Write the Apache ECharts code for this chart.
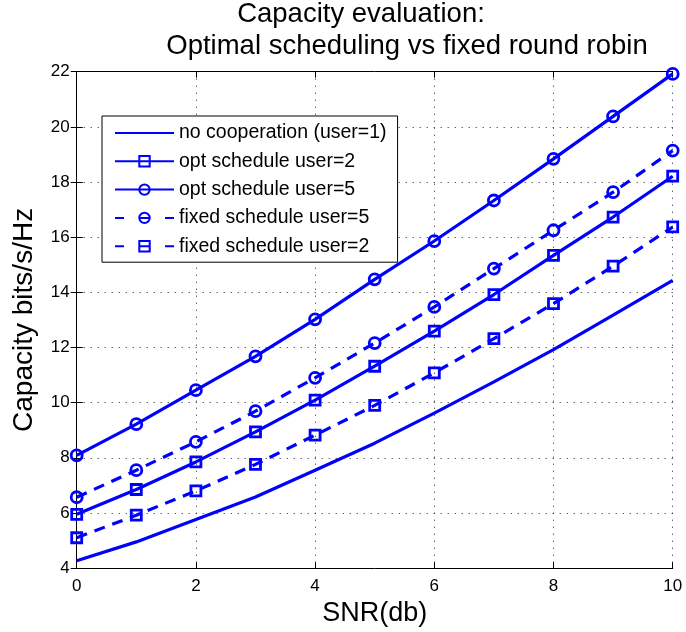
<!DOCTYPE html>
<html>
<head>
<meta charset="utf-8">
<script src="https://cdn.jsdelivr.net/npm/echarts@6/dist/echarts.min.js"></script>
<style>
  html, body { margin: 0; padding: 0; background: #fff; }
  #chart { width: 686px; height: 632px; }
</style>
</head>
<body>
<div id="chart"></div>
<script>
// SNR sample points (dB)
const snr = [0, 1, 2, 3, 4, 5, 6, 7, 8, 9, 10];

// Capacity (bits/s/Hz) per scheme
const noCoop      = [4.27, 4.95, 5.76, 6.58, 7.55, 8.53, 9.62, 10.75, 11.92, 13.17, 14.43];
const optUser2    = [5.95, 6.85, 7.85, 8.94, 10.09, 11.32, 12.59, 13.92, 15.34, 16.73, 18.21];
const optUser5    = [8.09, 9.22, 10.45, 11.68, 13.02, 14.47, 15.86, 17.33, 18.84, 20.38, 21.92];
const fixedUser5  = [6.57, 7.55, 8.58, 9.69, 10.90, 12.16, 13.47, 14.86, 16.25, 17.63, 19.14];
const fixedUser2  = [5.10, 5.92, 6.80, 7.76, 8.82, 9.90, 11.08, 12.32, 13.59, 14.95, 16.37];

const seriesNames = [
  'no cooperation (user=1)',
  'opt schedule user=2',
  'opt schedule user=5',
  'fixed schedule user=5',
  'fixed schedule user=2'
];

const titleLines = ['Capacity evaluation:', 'Optimal scheduling vs fixed round robin'];

const BLUE = '#0000ff';
const FONT = 'Liberation Sans, Arial, Helvetica, sans-serif';
const DASH = [11, 8];
const LEGEND_DASH = [9, 16];

function pairs(ys) { return snr.map((x, i) => [x, ys[i]]); }

function lineSeries(name, ys, symbol, dashed) {
  const marker = !!symbol;
  return {
    name: name,
    type: 'line',
    data: pairs(ys),
    color: BLUE,
    symbol: symbol || 'none',
    symbolSize: symbol === 'rect' ? 10 : 11,
    showSymbol: marker,
    lineStyle: { color: BLUE, width: 3.2, type: dashed ? DASH : 'solid' },
    itemStyle: marker
      ? { color: 'rgba(255,255,255,0)', borderColor: BLUE, borderWidth: 2.8 }
      : { color: 'rgba(255,255,255,0)', borderColor: 'rgba(255,255,255,0)', borderWidth: 0 },
    emphasis: { disabled: true },
    animation: false,
    z: 3
  };
}

const axisCommon = {
  axisLine: { show: true, lineStyle: { color: '#000', width: 1 } },
  axisTick: { show: true, inside: true, length: 6, lineStyle: { color: '#000', width: 1 } },
  axisLabel: { color: '#000', fontSize: 17, fontFamily: FONT },
};

const chart = echarts.init(document.getElementById('chart'), null, { renderer: 'canvas' });

chart.setOption({
  backgroundColor: '#fff',
  animation: false,
  textStyle: { fontFamily: FONT },
  grid: { left: 76.7, right: 13.3, top: 71.7, bottom: 63.7, containLabel: false },
  graphic: [
    {
      type: 'text', x: 361, y: 14,
      style: { text: titleLines[0], font: '27.5px ' + FONT, fill: '#000', textAlign: 'center', textVerticalAlign: 'middle' }
    },
    {
      type: 'text', x: 407, y: 46,
      style: { text: titleLines[1], font: '27.5px ' + FONT, fill: '#000', textAlign: 'center', textVerticalAlign: 'middle' }
    }
  ],
  xAxis: [
    Object.assign({}, axisCommon, {
      type: 'value', min: 0, max: 10, interval: 2,
      name: 'SNR(db)', nameLocation: 'middle', nameGap: 29,
      nameTextStyle: { color: '#000', fontSize: 27, fontFamily: FONT },
      axisLabel: Object.assign({}, axisCommon.axisLabel, { margin: 10 }),
      splitLine: { show: true, lineStyle: { color: '#222', width: 1, type: [1, 6] } }
    }),
    Object.assign({}, axisCommon, {
      type: 'value', min: 0, max: 10, interval: 2, position: 'top',
      axisLabel: { show: false }, splitLine: { show: false }
    })
  ],
  yAxis: [
    Object.assign({}, axisCommon, {
      type: 'value', min: 4, max: 22, interval: 2,
      name: 'Capacity bits/s/Hz', nameLocation: 'middle', nameGap: 38,
      nameTextStyle: { color: '#000', fontSize: 28, fontFamily: FONT },
      axisLabel: Object.assign({}, axisCommon.axisLabel, { margin: 7 }),
      splitLine: { show: true, lineStyle: { color: '#222', width: 1, type: [1, 6] } }
    }),
    Object.assign({}, axisCommon, {
      type: 'value', min: 4, max: 22, interval: 2, position: 'right',
      axisLabel: { show: false }, splitLine: { show: false }
    })
  ],
  legend: {
    orient: 'vertical',
    left: 102, top: 116,
    padding: [7, 11, 6, 12],
    backgroundColor: '#fff',
    borderColor: '#000', borderWidth: 1, borderRadius: 0,
    itemWidth: 59, itemHeight: 13, itemGap: 8.3,
    selectedMode: false,
    textStyle: { color: '#000', fontSize: 19.5, fontFamily: FONT, lineHeight: 20 },
    data: seriesNames.map((n, i) => (i >= 3 ? { name: n, lineStyle: { type: LEGEND_DASH } } : { name: n }))
  },
  series: [
    lineSeries(seriesNames[0], noCoop, null, false),
    lineSeries(seriesNames[1], optUser2, 'rect', false),
    lineSeries(seriesNames[2], optUser5, 'circle', false),
    lineSeries(seriesNames[3], fixedUser5, 'circle', true),
    lineSeries(seriesNames[4], fixedUser2, 'rect', true)
  ]
});
</script>
</body>
</html>
